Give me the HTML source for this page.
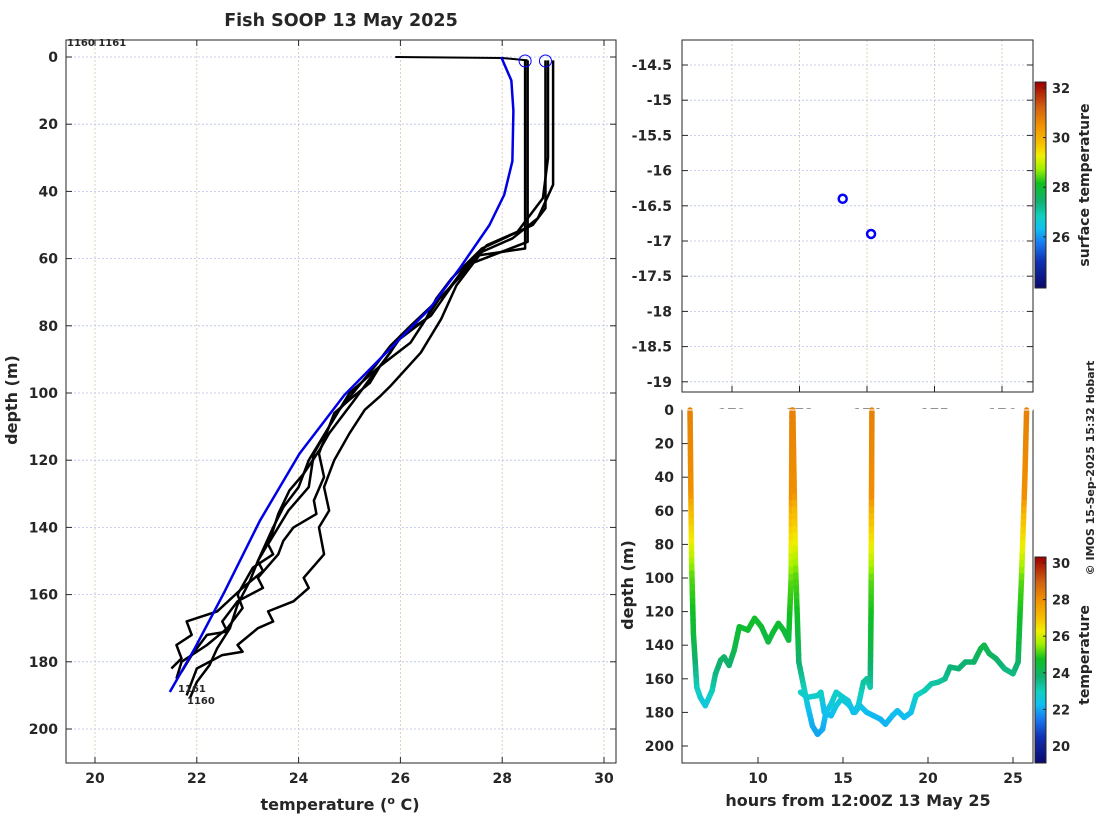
<!DOCTYPE html>
<html><head><meta charset="utf-8"><style>
body{margin:0;background:#fff}
svg text{font-family:"DejaVu Sans","Liberation Sans",sans-serif;font-weight:bold;fill:#262626}
</style></head><body>
<svg id="s" width="1100" height="820" xmlns="http://www.w3.org/2000/svg"></svg>
<script>
// ---- data: left profile plot ----
const tempTicks=[20,22,24,26,28,30];
const depthTicks=[0,20,40,60,80,100,120,140,160,180,200];
const climT=[27.98,28.18,28.22,28.2,28.04,27.75,27.16,26.57,25.59,24.9,24.02,23.24,22.55,21.96,21.47];
const climD=[0,7,16,31,41,50,63,75,90,100.6,118,138,159,176,189];
const surfT=[25.9,28.0,28.5];
const surfD=[0,0.3,1];
const castAT=[28.45,28.45,27.55,27.2,26.76,26.5,25.98,25.7,25.39,25.1,24.8,24.6,24.41,24.1,23.82,23.6,23.43,23.2,23.04,22.8,22.65,22.4,22.25,22.0,21.86];
const castAD=[1,57,59,65,72,78,84,90,96,102,108,112,117,124,129,136,144,150,156,163,170,176,181,186,191];
const castBT=[28.85,28.85,28.6,27.6,27.0,26.7,26.5,26.2,25.6,25.4,25.0,24.7,24.6,24.4,24.5,24.3,24.35,23.9,23.7,23.6,23.2,23.3,22.8,22.5,22.6,22.2,21.9,21.7];
const castBD=[1,45,50,57,66,72,78,85,92,97,102,106,110,118,125,132,136,140,144,148,155,158,162,168,171,172,178,183];
const castCT=[29.0,29.0,28.7,28.2,27.6,27.1,26.8,26.6,26.4,25.8,25.6,25.3,25.0,24.7,24.5,24.6,24.4,24.5,24.1,24.2,23.9,23.4,23.5,23.2,22.8,22.9,22.5,22.0,21.8];
const castCD=[1,38,48,54,58,68,78,83,88,98,101,105,112,120,128,135,140,148,155,158,162,165,168,170,175,177,178,182,190];
const castDT=[28.9,28.9,28.8,28.3,27.7,27.2,26.6,26.0,25.8,25.6,25.0,24.8,24.6,24.2,24.0,23.7,23.5,23.2,23.3,22.9,22.4,21.8,21.9,21.6,21.7,21.5];
const castDD=[1,30,42,52,56,64,77,83,88,92,100,105,110,120,128,134,140,150,153,158,165,168,172,175,179,182];
const castET=[28.5,28.5,27.3,26.9,26.2,25.8,25.5,24.8,24.6,24.3,24.2,23.8,23.4,23.5,23.1,22.8,22.9,22.6,22.2,21.7,21.6];
const castED=[1,55,62,70,80,86,92,105,110,118,128,135,145,148,152,160,164,170,175,180,185];
const stationT=[28.45,28.85];
// ---- data: map ----
const latTicks=[-14.5,-15,-15.5,-16,-16.5,-17,-17.5,-18,-18.5,-19];
const lonTicks=[172,173,174,175,176];
const ptLon=[173.64,174.06];
const ptLat=[-16.4,-16.9];
const sstTicks=[26,28,30,32];
// ---- data: time-depth section ----
const hourTicks=[10,15,20,25];
const secDepthTicks=[0,20,40,60,80,100,120,140,160,180,200];
const cTicks=[20,22,24,26,28,30];
const tr1T=[6.0,6.1,6.2,6.4,6.6,6.9,7.3,7.5,7.8,8.0,8.3,8.6,8.9,9.4,9.8,10.2,10.6,10.9,11.2,11.5,11.8,11.95,12.0];
const tr1D=[0,93,133,165,171,176,167,157,149,147,152,143,129,131,124,129,138,132,127,131,137,100,0];
const tr2T=[12.05,12.2,12.4,12.6,12.9,13.2,13.5,13.8,14.0,14.3,14.6,15.0,15.3,15.6,15.9,16.2,16.4,16.6,16.65,16.7];
const tr2D=[0,90,150,160,175,188,193,190,180,175,168,171,173,180,176,162,160,165,120,0];
const tr3T=[12.5,12.9,13.5,13.7,13.9,14.3,14.6,14.9,15.3,15.7,16.0,16.4,16.8,17.2,17.5,17.9,18.2,18.6,19.0,19.3,19.8,20.2,20.6,21.0,21.3,21.8,22.2,22.7,23.1,23.3,23.6,24.0,24.5,25.0,25.3,25.5,25.7,25.8];
const tr3D=[168,171,170,168,180,182,176,172,175,180,176,180,182,184,187,182,179,183,180,170,167,163,162,160,153,154,150,150,142,140,145,148,154,157,150,100,40,0];
const colProfD=[0,50,60,80,100,120,140,160,180,200];
const colProfT=[28.3,28.0,27.2,26.3,25.2,24.8,24.3,23.4,22.3,21.8];

const S=document.getElementById('s');const NS='http://www.w3.org/2000/svg';
function el(tag,at,parent){const e=document.createElementNS(NS,tag);for(const k in at)e.setAttribute(k,at[k]);(parent||S).appendChild(e);return e;}
function txt(x,y,s,size,anchor,rot){const e=el('text',{x:x,y:y,'font-size':size,'text-anchor':anchor||'middle'});if(rot)e.setAttribute('transform','rotate(-90 '+x+' '+y+')');e.textContent=s;return e;}
// custom colormap stops (fraction, rgb)
const CM=[[0,[10,10,110]],[0.125,[16,48,176]],[0.214,[24,120,240]],[0.286,[16,192,240]],[0.348,[16,208,192]],[0.42,[16,176,112]],[0.509,[16,192,32]],[0.58,[160,240,0]],[0.643,[240,240,0]],[0.705,[248,192,0]],[0.795,[240,144,0]],[0.884,[208,96,16]],[1,[160,0,0]]];
function jet(v){v=Math.max(0,Math.min(1,v));for(let i=1;i<CM.length;i++){if(v<=CM[i][0]){const f=(v-CM[i-1][0])/(CM[i][0]-CM[i-1][0]);const c=CM[i-1][1].map((a,k)=>Math.round(a+f*(CM[i][1][k]-a)));return 'rgb('+c.join(',')+')';}}return 'rgb(160,0,0)';}

// ===== left plot =====
const L={x0:66,x1:616,y0:40,y1:763};
const xT=t=>95+(t-20)*50.9;
const yD=d=>57+d*3.36;
let g=el('g',{});
tempTicks.forEach(t=>{const l=el('line',{x1:xT(t),x2:xT(t),y1:L.y0,y2:L.y1,stroke:'#d8c4a8','stroke-dasharray':'2,2','stroke-width':0.8},g);
 el('line',{x1:xT(t),x2:xT(t),y1:L.y1,y2:L.y1-6,stroke:'#262626'},g);el('line',{x1:xT(t),x2:xT(t),y1:L.y0,y2:L.y0+6,stroke:'#262626'},g);
 const tx=txt(xT(t),783,String(t),14);});
depthTicks.forEach(d=>{const l=el('line',{x1:L.x0,x2:L.x1,y1:yD(d),y2:yD(d),stroke:'#b8c0e8','stroke-dasharray':'2,2','stroke-width':0.8},g);
 el('line',{x1:L.x0,x2:L.x0+6,y1:yD(d),y2:yD(d),stroke:'#262626'},g);el('line',{x1:L.x1,x2:L.x1-6,y1:yD(d),y2:yD(d),stroke:'#262626'},g);
 const tx=txt(58,yD(d)+5,String(d),14,'end');});
function poly(T,D,col,w,name){const p=el('polyline',{points:T.map((t,i)=>xT(t)+','+yD(D[i])).join(' '),fill:'none',stroke:col,'stroke-width':w,'stroke-linejoin':'round'},g);}
poly(surfT,surfD,'#000',2,'surface-segment');
poly(castAT,castAD,'#000',2.5,'cast-a');poly(castBT,castBD,'#000',2.5,'cast-b');poly(castCT,castCD,'#000',2.5,'cast-c');poly(castDT,castDD,'#000',2.5,'cast-d');poly(castET,castED,'#000',2.5,'cast-e');
poly(climT,climD,'#0000e6',2.5,'climatology-line');
stationT.forEach(t=>{const c=el('circle',{cx:xT(t),cy:61,r:6,fill:'none',stroke:'#0000ff','stroke-width':1},g);});
const fr=el('rect',{x:L.x0,y:L.y0,width:L.x1-L.x0,height:L.y1-L.y0,fill:'none',stroke:'#262626','stroke-width':1},g);
let t1=txt(341,26,'Fish SOOP 13 May 2025',17.5);
let t2=el('text',{x:67,y:46,'font-size':10,'text-anchor':'start','font-weight':'normal'});t2.textContent='1160 1161';
let t3=el('text',{x:178,y:692,'font-size':10,'text-anchor':'start','font-weight':'normal'});t3.textContent='1161';
let t4=el('text',{x:187,y:704,'font-size':10,'text-anchor':'start','font-weight':'normal'});t4.textContent='1160';
let yl=txt(17,400,'depth (m)',16,'middle',true);
let xl=el('text',{x:340,y:810,'font-size':16,'text-anchor':'middle'});xl.innerHTML='temperature (<tspan dy="-6" font-size="11">o</tspan><tspan dy="6"> C)</tspan>';

// ===== map =====
const M={x0:682,x1:1033,y0:40,y1:392};
const xL=l=>732+(l-172)*67.5;
const yLa=a=>65+(-14.5-a)*70.4;
let gm=el('g',{});
lonTicks.forEach(l=>{el('line',{x1:xL(l),x2:xL(l),y1:M.y0,y2:M.y1,stroke:'#d8c4a8','stroke-dasharray':'2,2','stroke-width':0.8},gm);el('line',{x1:xL(l),x2:xL(l),y1:M.y1,y2:M.y1-6,stroke:'#262626'},gm);
 const tx=txt(xL(l),419,String(l),14);});
latTicks.forEach(a=>{el('line',{x1:M.x0,x2:M.x1,y1:yLa(a),y2:yLa(a),stroke:'#b8c0e8','stroke-dasharray':'2,2','stroke-width':0.8},gm);el('line',{x1:M.x0,x2:M.x0+6,y1:yLa(a),y2:yLa(a),stroke:'#262626'},gm);el('line',{x1:M.x1,x2:M.x1-6,y1:yLa(a),y2:yLa(a),stroke:'#262626'},gm);
 const tx=txt(672,yLa(a)+5,String(a),14,'end');});
ptLon.forEach((l,i)=>{const c=el('circle',{cx:xL(l),cy:yLa(ptLat[i]),r:4,fill:'none',stroke:'#0000ff','stroke-width':2.5},gm);});
el('rect',{x:M.x0,y:M.y0,width:M.x1-M.x0,height:M.y1-M.y0,fill:'none',stroke:'#262626'},gm);
// colorbar 1
const cb1y=v=>88+(32-v)*24.8;
let cg1=el('g',{});
for(let y=82;y<288;y++){const v=32-(y-88)/24.8;el('rect',{x:1035,y:y,width:11,height:1.2,fill:jet((v-24)/(32.2-24))},cg1);}
el('rect',{x:1035,y:82,width:11,height:206,fill:'none',stroke:'#262626'},cg1);
sstTicks.forEach(v=>{el('line',{x1:1043,x2:1046,y1:cb1y(v),y2:cb1y(v),stroke:'#262626'},cg1);const tx=txt(1052,cb1y(v)+5,String(v),13,'start');});
let cl1=txt(1089,185,'surface temperature',14,'middle',true);

// ===== section =====
const B={x0:682,x1:1033,y0:410,y1:763};
const xh=h=>673+(h-5)*17;
const yS=d=>410+d*1.68;
let gs=el('g',{});
el('rect',{x:B.x0,y:B.y0-1,width:B.x1-B.x0,height:B.y1-B.y0+1,fill:'#fff'},gs);
hourTicks.forEach(h=>{el('line',{x1:xh(h),x2:xh(h),y1:B.y1,y2:B.y1-6,stroke:'#262626'},gs);const tx=txt(xh(h),783,String(h),14);});
secDepthTicks.forEach(d=>{el('line',{x1:B.x0,x2:B.x0+6,y1:yS(d),y2:yS(d),stroke:'#262626'},gs);const tx=txt(674,yS(d)+5,String(d),14,'end');});
function colT(d){for(let i=1;i<colProfD.length;i++){if(d<=colProfD[i]){const f=(d-colProfD[i-1])/(colProfD[i]-colProfD[i-1]);return colProfT[i-1]+f*(colProfT[i]-colProfT[i-1]);}}return colProfT[colProfT.length-1];}
const cmin=19.1,cmax=30.3;
function track(T,D,name){const gg=el('g',{},gs);
 for(let i=0;i<T.length-1;i++){const n=Math.max(1,Math.ceil(Math.abs(D[i+1]-D[i])/4));for(let k=0;k<n;k++){const a=k/n,b=(k+1)/n;const t0=T[i]+a*(T[i+1]-T[i]),t1=T[i]+b*(T[i+1]-T[i]),d0=D[i]+a*(D[i+1]-D[i]),d1=D[i]+b*(D[i+1]-D[i]);
 el('line',{x1:xh(t0),y1:yS(d0),x2:xh(t1),y2:yS(d1),stroke:jet((colT((d0+d1)/2)-cmin)/(cmax-cmin)),'stroke-width':5.5,'stroke-linecap':'round'},gg);}}}
track(tr3T,tr3D,'track-3');track(tr1T,tr1D,'track-1');track(tr2T,tr2D,'track-2');
el('rect',{x:B.x0,y:B.y0,width:B.x1-B.x0,height:B.y1-B.y0,fill:'none',stroke:'#262626'},gs);
el('line',{x1:B.x0,x2:B.x1,y1:B.y0,y2:B.y0,stroke:'#fff','stroke-width':1},gs);
// colorbar 2
const cb2y=v=>563+(30-v)*18.3;
let cg2=el('g',{});
for(let y=557;y<763;y++){const v=30-(y-563)/18.3;el('rect',{x:1035,y:y,width:11,height:1.2,fill:jet((v-cmin)/(cmax-cmin))},cg2);}
el('rect',{x:1035,y:557,width:11,height:206,fill:'none',stroke:'#262626'},cg2);
cTicks.forEach(v=>{el('line',{x1:1043,x2:1046,y1:cb2y(v),y2:cb2y(v),stroke:'#262626'},cg2);const tx=txt(1052,cb2y(v)+5,String(v),13,'start');});
let cl2=txt(1089,655,'temperature',14,'middle',true);
let yl2=txt(633,585,'depth (m)',16,'middle',true);
let xl2=txt(858,806,'hours from 12:00Z 13 May 25',16);
let cp=el('text',{x:1094,y:468,'font-size':11,'text-anchor':'middle','font-weight':'normal',transform:'rotate(-90 1094 468)'});cp.textContent='© IMOS 15-Sep-2025 15:32 Hobart';
</script></body></html>
